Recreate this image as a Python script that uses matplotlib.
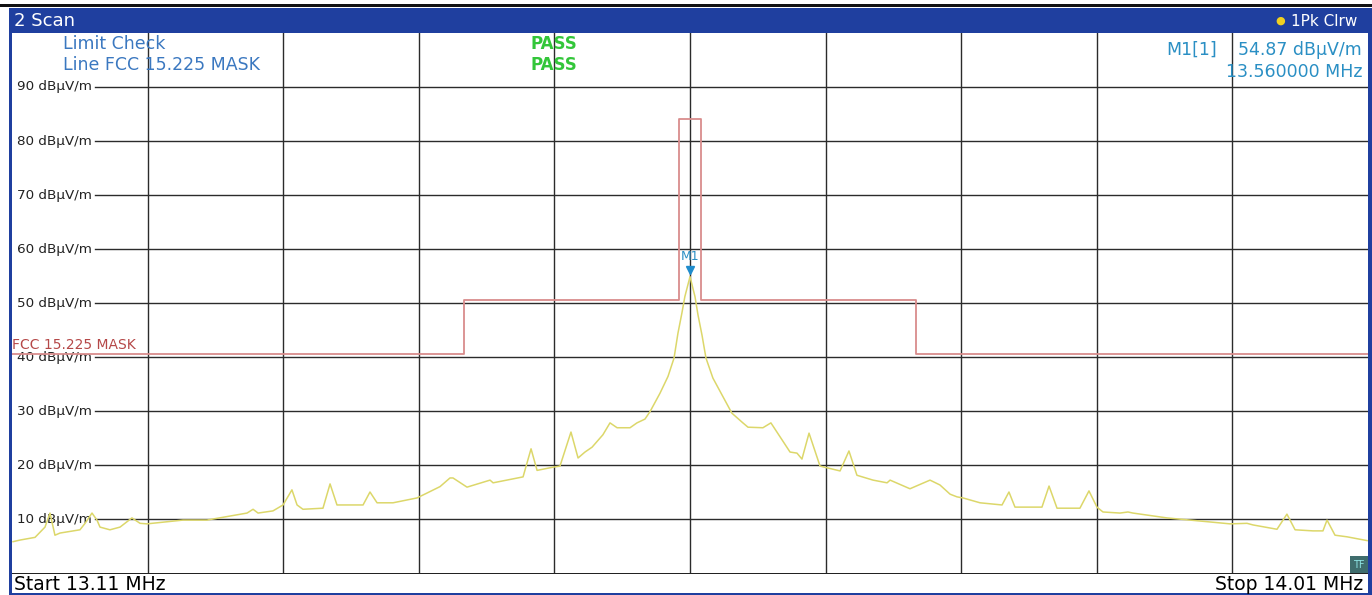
import numpy as np
import matplotlib
matplotlib.use("Agg")
import matplotlib.pyplot as plt
import matplotlib.transforms as mtrans
from matplotlib.patches import Rectangle

# ---- data (MHz, dBuV/m)
f_start, f_stop = 13.11, 14.01
levels = [10, 20, 30, 40, 50, 60, 70, 80, 90]

trace_f = [13.1107, 13.1153, 13.1253, 13.1319, 13.1352, 13.1385, 13.1419, 13.1551,
           13.1585, 13.1631, 13.1664, 13.1684, 13.1750, 13.1817, 13.1896, 13.1950,
           13.1996, 13.2235, 13.2394, 13.2660, 13.2700, 13.2733, 13.2832, 13.2899,
           13.2958, 13.2992, 13.3031, 13.3164, 13.3211, 13.3257, 13.3430, 13.3476,
           13.3523, 13.3629, 13.3788, 13.3854, 13.3941, 13.4007, 13.4027, 13.4120,
           13.4273, 13.4293, 13.4492, 13.4545, 13.4585, 13.4691, 13.4737, 13.4810,
           13.4857, 13.4903, 13.4950, 13.5022, 13.5069, 13.5116, 13.5202, 13.5248,
           13.5301, 13.5335, 13.5401, 13.5454, 13.5494, 13.5520, 13.5546, 13.5566,
           13.5600, 13.5633, 13.5653, 13.5680, 13.5706, 13.5752, 13.5812, 13.5878,
           13.5951, 13.5985, 13.6084, 13.6137, 13.6264, 13.6310, 13.6343, 13.6390,
           13.6463, 13.6596, 13.6655, 13.6708, 13.6815, 13.6908, 13.6928, 13.7060,
           13.7193, 13.7259, 13.7326, 13.7372, 13.7412, 13.7525, 13.7671, 13.7717,
           13.7757, 13.7936, 13.7983, 13.8036, 13.8188, 13.8248, 13.8301, 13.8341,
           13.8454, 13.8507, 13.8540, 13.8766, 13.9071, 13.9184, 13.9297, 13.9337,
           13.9496, 13.9562, 13.9616, 13.9735, 13.9801, 13.9828, 13.9881, 13.9961,
           14.0094]
trace_db = [5.8, 6.1, 6.6, 8.5, 11.1, 7.0, 7.4, 8.0,
            9.2, 11.1, 9.8, 8.5, 8.0, 8.5, 10.2, 9.2,
            9.1, 9.8, 9.8, 11.1, 11.8, 11.1, 11.5, 12.6,
            15.4, 12.6, 11.8, 12.0, 16.5, 12.6, 12.6, 15.0,
            13.0, 13.0, 13.9, 14.8, 16.0, 17.6, 17.6, 15.9,
            17.2, 16.7, 17.8, 23.0, 19.0, 19.6, 19.8, 26.1,
            21.3, 22.4, 23.3, 25.6, 27.8, 26.9, 26.9, 27.8,
            28.5, 29.9, 33.3, 36.4, 39.8, 44.4, 48.1, 51.2,
            54.87, 51.2, 47.8, 44.0, 39.8, 36.1, 33.0, 29.6,
            27.8, 27.0, 26.9, 27.8, 22.4, 22.2, 21.1, 25.9,
            19.8, 18.9, 22.6, 18.1, 17.2, 16.7, 17.2, 15.6,
            17.2, 16.3, 14.6, 14.1, 13.9, 13.0, 12.6, 15.0,
            12.2, 12.2, 16.1, 12.0, 12.0, 15.2, 12.2, 11.3,
            11.1, 11.3, 11.1, 10.2, 9.4, 9.1, 9.2, 8.9,
            8.1, 10.9, 8.0, 7.8, 7.8, 9.8, 7.0, 6.7,
            6.0]

# FCC 15.225 limit mask
mask_f = [13.11, 13.41, 13.553, 13.567, 13.71, 14.01]
mask_db = [40.5, 50.5, 84.0, 50.5, 40.5, 40.5]

m1_f, m1_db = 13.56, 54.87

W, H = 1372, 595
fig = plt.figure(figsize=(W / 100, H / 100), dpi=100)
fig.patch.set_facecolor("white")

ax = fig.add_axes([12 / W, 22 / H, 1356 / W, 540 / H])
ax.set_xlim(f_start, f_stop)
ax.set_ylim(0, 100)
for s in ax.spines.values():
    s.set_visible(False)
ax.set_xticks([])
ax.set_yticks([])

grid_c = "#2b2b2b"
for k in range(1, 10):
    ax.axvline(f_start + k * (f_stop - f_start) / 10, color=grid_c, lw=1, zorder=1)
lab_tr = mtrans.blended_transform_factory(ax.transAxes, ax.transData)
for lv in levels:
    ax.axhline(lv, xmin=83 / 1356, xmax=1, color=grid_c, lw=1, zorder=1)
    ax.text(5 / 1356, lv, f"{lv} dBµV/m", transform=lab_tr, ha="left", va="center",
            fontsize=9.7, color="#222222", zorder=2)

# limit line and trace
ax.plot(mask_f, mask_db, drawstyle="steps-post", color="#d98c8c", lw=1.3, zorder=3)
ax.text(0.0, 42.2, "FCC 15.225 MASK", transform=lab_tr, ha="left", va="center",
        fontsize=10, color="#b54848", zorder=4)
ax.plot(trace_f, trace_db, color="#dcd76a", lw=1.1, zorder=4)

# marker M1
ax.plot([m1_f], [m1_db + 1.2], marker="v", color="#1f8ccc", ms=6, zorder=5)
ax.text(m1_f, m1_db + 3.7, "M1", ha="center", va="center", fontsize=9,
        color="#2a8fc4", zorder=5)

# header info inside the plot
blue_t = "#3b78c0"
ax.text(51 / 1356, 0.98, "Limit Check", transform=ax.transAxes, ha="left", va="center",
        fontsize=12.5, color=blue_t)
ax.text(51 / 1356, 0.941, "Line FCC 15.225 MASK", transform=ax.transAxes, ha="left",
        va="center", fontsize=12.5, color=blue_t)
for yy in (0.98, 0.941):
    ax.text(518 / 1356, yy, "PASS", transform=ax.transAxes, ha="left", va="center",
            fontsize=12, color="#33c63a", fontweight="bold")
mk_c = "#2a8fc4"
ax.text(1205 / 1356, 0.969, "M1[1]", transform=ax.transAxes, ha="right", va="center",
        fontsize=12.5, color=mk_c)
ax.text(1350 / 1356, 0.969, "54.87 dBµV/m", transform=ax.transAxes, ha="right",
        va="center", fontsize=12.5, color=mk_c)
ax.text(1350 / 1356, 0.928, "13.560000 MHz", transform=ax.transAxes, ha="right",
        va="center", fontsize=12.5, color=mk_c)

# TF badge
ax.add_patch(Rectangle((1338 / 1356, 0), 18 / 1356, 17 / 540, transform=ax.transAxes,
                       facecolor="#3f6d6d", edgecolor="none", zorder=6))
ax.text(1347 / 1356, 8.5 / 540, "TF", transform=ax.transAxes, ha="center", va="center",
        fontsize=7, color="#8fe6e6", zorder=7)

# analyzer frame: title bar, borders, footer
bar_c = "#1f3f9f"
fig.patches.append(Rectangle((0, (H - 7) / H), 1, 3 / H, transform=fig.transFigure,
                             facecolor="#111111", edgecolor="none"))
fig.patches.append(Rectangle((9 / W, (H - 33) / H), 1 - 9 / W, 25 / H,
                             transform=fig.transFigure, facecolor=bar_c, edgecolor="none"))
fig.patches.append(Rectangle((9 / W, 0), 3 / W, (H - 8) / H, transform=fig.transFigure,
                             facecolor=bar_c, edgecolor="none"))
fig.patches.append(Rectangle((1368 / W, 0), 4 / W, (H - 8) / H, transform=fig.transFigure,
                             facecolor=bar_c, edgecolor="none"))
fig.patches.append(Rectangle((9 / W, 0), 1 - 9 / W, 2 / H, transform=fig.transFigure,
                             facecolor=bar_c, edgecolor="none"))
fig.patches.append(Rectangle((12 / W, 21 / H), 1356 / W, 1.5 / H, transform=fig.transFigure,
                             facecolor="#222222", edgecolor="none"))
fig.text(14 / W, (H - 21) / H, "2 Scan", color="white", fontsize=13, ha="left", va="center")
fig.text(1357 / W, (H - 21) / H, "1Pk Clrw", color="white", fontsize=11, ha="right",
         va="center")
fig.text(1280 / W, (H - 21) / H, "●", color="#f0d020", fontsize=8, ha="center", va="center")
fig.text(14 / W, 11 / H, "Start 13.11 MHz", color="black", fontsize=13.5, ha="left",
         va="center")
fig.text(1363 / W, 11 / H, "Stop 14.01 MHz", color="black", fontsize=13.5, ha="right",
         va="center")

fig.savefig("out.png", dpi=100, facecolor="white")
